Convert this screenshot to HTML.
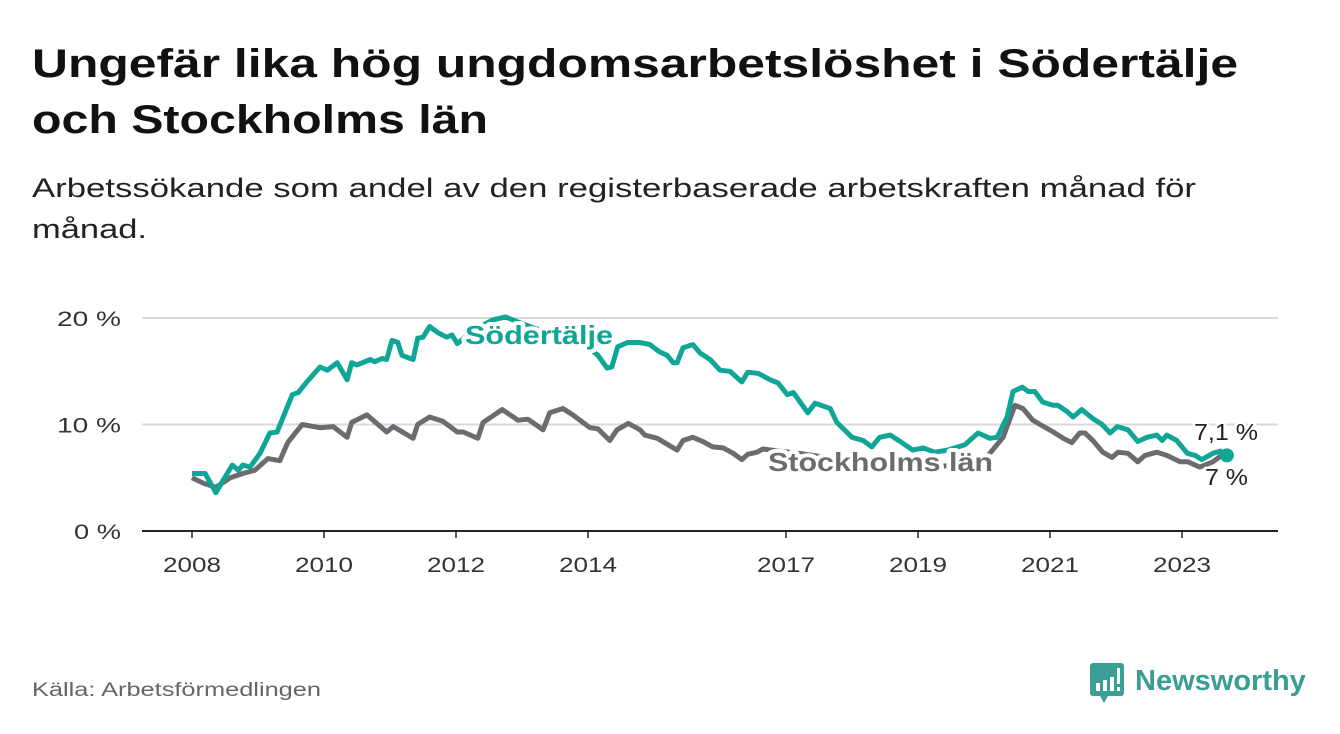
<!DOCTYPE html>
<html><head><meta charset="utf-8"><style>
body{margin:0;width:1340px;height:734px;background:#fff;font-family:"Liberation Sans",sans-serif;overflow:hidden;position:relative}
</style></head><body>
<svg width="1340" height="734" style="position:absolute;left:0;top:0" id="chart" font-family="Liberation Sans, sans-serif">
<g font-size="40" font-weight="bold" fill="#111">
<text x="32" y="77" textLength="1206" lengthAdjust="spacingAndGlyphs">Ungefär lika hög ungdomsarbetslöshet i Södertälje</text>
<text x="32" y="133" textLength="456" lengthAdjust="spacingAndGlyphs">och Stockholms län</text>
</g>
<g font-size="27" fill="#222">
<text x="32" y="197" textLength="1164" lengthAdjust="spacingAndGlyphs">Arbetssökande som andel av den registerbaserade arbetskraften månad för</text>
<text x="32" y="238" textLength="115" lengthAdjust="spacingAndGlyphs">månad.</text>
</g>
<text x="32" y="696" font-size="19" fill="#666" textLength="289" lengthAdjust="spacingAndGlyphs">Källa: Arbetsförmedlingen</text>
<g id="grid"></g><g id="lines"></g><g id="labels"></g>
<g>
<rect x="1090" y="663" width="34" height="33" rx="3" fill="#3a9e94"/>
<polygon points="1100,696 1108,696 1104,703" fill="#3a9e94"/>
<rect x="1096" y="683" width="4" height="8" fill="#fff"/><rect x="1103" y="680" width="4" height="11" fill="#fff"/><rect x="1110" y="677" width="4" height="14" fill="#fff"/><rect x="1117" y="668" width="3" height="16" fill="#fff"/><rect x="1117" y="687" width="3" height="4" fill="#fff"/>
<text x="1135" y="690" font-size="29" font-weight="bold" fill="#3a9e94">Newsworthy</text>
</g>
</svg>
<script>
const sYears=[2008.0,2008.2,2008.36,2008.61,2008.7,2008.77,2008.88,2009.03,2009.18,2009.29,2009.52,2009.61,2009.74,2009.94,2010.05,2010.2,2010.35,2010.42,2010.5,2010.7,2010.77,2010.88,2010.95,2011.03,2011.12,2011.18,2011.35,2011.42,2011.5,2011.6,2011.73,2011.86,2011.94,2012.02,2012.2,2012.4,2012.55,2012.75,2012.95,2013.2,2013.45,2013.7,2013.9,2014.05,2014.15,2014.29,2014.36,2014.45,2014.6,2014.79,2014.94,2015.09,2015.2,2015.29,2015.35,2015.44,2015.59,2015.7,2015.85,2016.0,2016.15,2016.33,2016.42,2016.58,2016.76,2016.88,2017.02,2017.11,2017.33,2017.44,2017.67,2017.77,2018.0,2018.17,2018.3,2018.42,2018.58,2018.73,2018.92,2019.08,2019.25,2019.45,2019.71,2019.91,2020.09,2020.2,2020.35,2020.44,2020.58,2020.67,2020.77,2020.89,2021.05,2021.12,2021.26,2021.35,2021.48,2021.64,2021.79,2021.91,2022.02,2022.18,2022.33,2022.47,2022.62,2022.7,2022.77,2022.92,2023.08,2023.2,2023.3,2023.47,2023.58,2023.68];
const sValues=[5.4,5.4,3.6,6.2,5.7,6.2,6.0,7.3,9.2,9.3,12.8,13.0,14.0,15.4,15.1,15.8,14.2,15.8,15.6,16.1,15.9,16.2,16.1,17.9,17.7,16.5,16.1,18.1,18.2,19.2,18.6,18.2,18.4,17.6,18.5,19.3,19.8,20.1,19.6,19.0,18.6,18.0,17.8,17.0,16.5,15.3,15.4,17.3,17.7,17.7,17.5,16.8,16.5,15.8,15.8,17.2,17.5,16.7,16.1,15.1,15.0,14.0,14.9,14.8,14.2,13.9,12.8,13.0,11.1,12.0,11.5,10.2,8.8,8.5,7.9,8.8,9.0,8.4,7.6,7.8,7.4,7.6,8.1,9.2,8.7,8.8,10.7,13.1,13.5,13.1,13.1,12.1,11.8,11.8,11.2,10.7,11.4,10.6,10.0,9.2,9.8,9.5,8.4,8.8,9.0,8.5,9.0,8.5,7.3,7.1,6.7,7.3,7.5,7.1];
const kYears=[2008.0,2008.17,2008.36,2008.58,2008.77,2008.95,2009.15,2009.33,2009.45,2009.67,2009.94,2010.14,2010.35,2010.42,2010.65,2010.95,2011.05,2011.35,2011.42,2011.6,2011.8,2012.02,2012.11,2012.33,2012.41,2012.7,2012.94,2013.09,2013.32,2013.42,2013.62,2013.77,2014.03,2014.15,2014.33,2014.44,2014.61,2014.79,2014.86,2015.05,2015.35,2015.44,2015.59,2015.74,2015.89,2016.05,2016.2,2016.33,2016.42,2016.56,2016.65,2016.9,2017.2,2017.5,2017.8,2018.1,2018.4,2018.7,2019.0,2019.3,2019.6,2019.9,2020.05,2020.29,2020.47,2020.59,2020.74,2020.85,2021.05,2021.2,2021.33,2021.45,2021.53,2021.65,2021.8,2021.94,2022.03,2022.18,2022.33,2022.44,2022.62,2022.77,2022.97,2023.09,2023.27,2023.47,2023.58,2023.68];
const kValues=[5.0,4.5,4.1,5.0,5.4,5.7,6.8,6.6,8.3,10.0,9.7,9.8,8.8,10.2,10.9,9.3,9.8,8.7,10.0,10.7,10.3,9.3,9.3,8.7,10.2,11.4,10.4,10.5,9.5,11.1,11.5,10.9,9.7,9.6,8.5,9.5,10.1,9.5,9.0,8.7,7.6,8.5,8.8,8.4,7.9,7.8,7.3,6.7,7.2,7.4,7.7,7.5,7.3,7.0,6.8,6.6,6.4,6.3,6.1,6.0,6.3,6.6,7.0,8.8,11.8,11.5,10.4,10.0,9.3,8.7,8.3,9.2,9.2,8.5,7.4,6.9,7.4,7.3,6.5,7.1,7.4,7.1,6.5,6.5,6.0,6.5,7.0,7.0];
const xTicks=[2008,2010,2012,2014,2017,2019,2021,2023];
const yTicks=[0,10,20];
const yTickLabels=["0 %","10 %","20 %"];
const NS="http://www.w3.org/2000/svg";
const X=y=>192+(y-2008)*66, Y=v=>531-v*10.65;
function mk(tag,attrs,parent){const e=document.createElementNS(NS,tag);for(const k in attrs)e.setAttribute(k,attrs[k]);parent.appendChild(e);return e;}
const grid=document.getElementById('grid'),lines=document.getElementById('lines'),labels=document.getElementById('labels');
yTicks.forEach((v,i)=>{
 if(v>0){const g=mk('line',{x1:142,x2:1278,y1:Y(v),y2:Y(v),stroke:'#d9d9d9','stroke-width':2},grid);
 
 }
 const w=yTickLabels[i].length>3?64:47;
 const t=mk('text',{x:121-w,y:Y(v)+8,'font-size':21,fill:'#333',textLength:w,lengthAdjust:'spacingAndGlyphs'},grid);t.textContent=yTickLabels[i];
 
 
});
const ax=mk('line',{x1:142,x2:1278,y1:531,y2:531,stroke:'#222','stroke-width':2},grid);


xTicks.forEach(yr=>{
 const tk=mk('line',{x1:X(yr),x2:X(yr),y1:531,y2:538,stroke:'#222','stroke-width':1.5},grid);
 
 
 const t=mk('text',{x:X(yr)-29,y:572,'font-size':21,fill:'#333',textLength:58,lengthAdjust:'spacingAndGlyphs'},grid);t.textContent=yr;
 
 
});
function path(xs,vs){return xs.map((x,i)=>(i?'L':'M')+X(x).toFixed(1)+','+Y(vs[i]).toFixed(1)).join('');}
const kp=mk('path',{d:path(kYears,kValues),fill:'none',stroke:'#6d6b70','stroke-width':5,'stroke-linejoin':'round'},lines);


const sp=mk('path',{d:path(sYears,sValues),fill:'none',stroke:'#0fa597','stroke-width':5,'stroke-linejoin':'round'},lines);


const dot=mk('circle',{cx:X(sYears[sYears.length-1]),cy:Y(sValues[sValues.length-1]),r:7,fill:'#0fa597'},lines);


function lab(txt,x,y,col,name,w,bold,size){
 const t=mk('text',{x:x,y:y,textLength:w,lengthAdjust:'spacingAndGlyphs','font-size':size,'font-weight':bold?'bold':'normal',fill:col,stroke:'#fff','stroke-width':bold?8:5,'paint-order':'stroke','stroke-linejoin':'round'},labels);
 t.textContent=txt;
 
 }
lab('Södertälje',465,344,'#0fa597','sodertalje-label',148,true,26);
lab('Stockholms län',768,471,'#6d6b70','stockholms-lan-label',225,true,26);
lab('7,1 %',1194,440,'#222','sodertalje-end-value',64,false,23);
lab('7 %',1205,485,'#222','stockholm-end-value',43,false,23);
</script>
</body></html>
